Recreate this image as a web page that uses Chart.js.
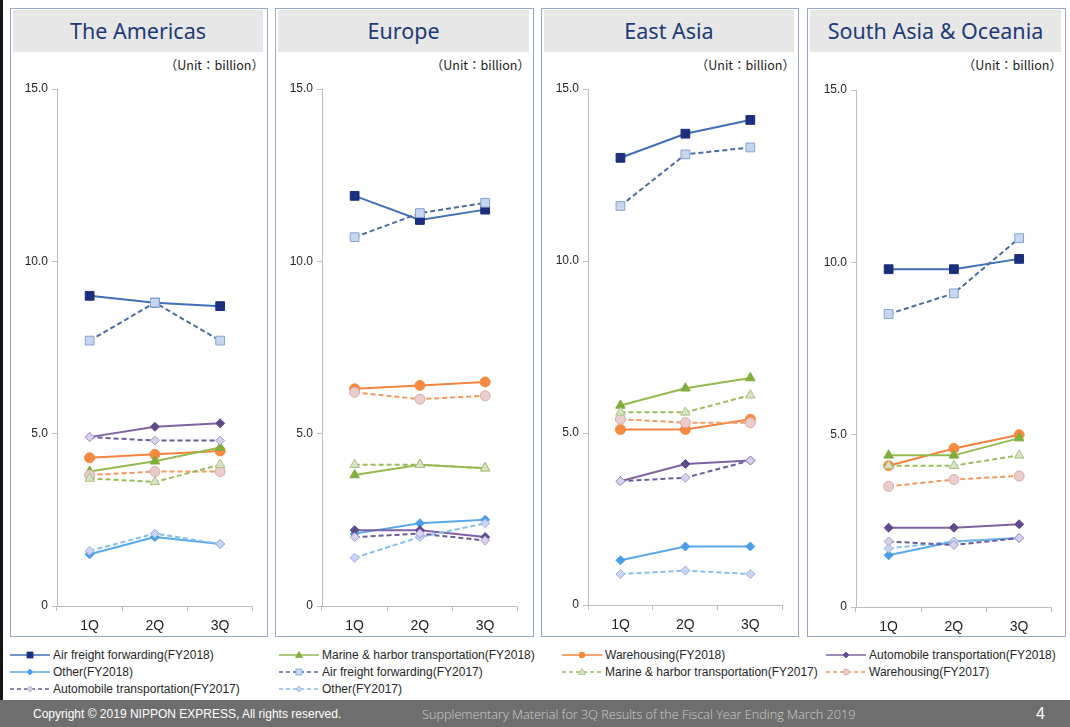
<!DOCTYPE html>
<html>
<head>
<meta charset="utf-8">
<script src="https://cdn.jsdelivr.net/npm/chart.js@4.4.1/dist/chart.umd.min.js"></script>
<style>
  html, body { margin: 0; padding: 0; background: #fff; }
  body { width: 1070px; height: 727px; position: relative; overflow: hidden; font-family: "Liberation Sans", Arial, sans-serif; }
  .leftbar { position: absolute; left: 0; top: 0; width: 3px; height: 700px; background: #151515; }
  .panel { position: absolute; border: 1.5px solid #9aa7c6; box-sizing: border-box; background: #fff; }
  .title { position: absolute; left: 2px; right: 4px; top: 1px; height: 42px; background: #e7e7e7; color: #203a78;
           font-family: "Noto Sans", sans-serif; font-size: 21.5px; line-height: 42px; text-align: center; }
  .unit { position: absolute; right: 3px; top: 46px; font-family: "Noto Sans CJK JP", sans-serif; font-size: 12.5px; color: #222; }
  canvas.ch { position: absolute; }
  .legend { position: absolute; font-size: 12px; color: #262626; white-space: nowrap; }
  .legend .item { position: absolute; display: flex; align-items: center; height: 14px; }
  .legend svg { margin-right: 3px; }
  .footer { position: absolute; left: 0; top: 700px; width: 1070px; height: 27px; background: #6e6e6e; }
  .footer span { position: absolute; top: 0; line-height: 28px; }
</style>
</head>
<body>
<div class="leftbar"></div>
<div id="root"></div>
<div class="legend" id="legend"></div>
<div class="footer">
  <span style="left:33px;color:#fff;font-size:12px;">Copyright © 2019 NIPPON EXPRESS, All rights reserved.</span>
  <span style="left:422px;color:#cfcfcf;font-size:12.7px;font-family:'Open Sans',sans-serif;font-weight:300;">Supplementary Material for 3Q Results of the Fiscal Year Ending March 2019</span>
  <span style="left:1036px;color:#fff;font-size:16px;">4</span>
</div>
<script>
// ---- categories / ticks ----
const quarters = ['1Q', '2Q', '3Q'];
const yTicks = [0, 5, 10, 15];
const regionTitles = ['The Americas', 'Europe', 'East Asia', 'South Asia & Oceania'];
const unitLabel = '（Unit：billion）';
const seriesNames = ['Air freight forwarding', 'Marine & harbor transportation', 'Warehousing', 'Automobile transportation', 'Other'];

// ---- The Americas ----
const americasAir2018 = [9.0, 8.8, 8.7];
const americasMarine2018 = [3.9, 4.2, 4.6];
const americasWare2018 = [4.3, 4.4, 4.5];
const americasAuto2018 = [4.9, 5.2, 5.3];
const americasOther2018 = [1.5, 2.0, 1.8];
const americasAir2017 = [7.7, 8.8, 7.7];
const americasMarine2017 = [3.7, 3.6, 4.1];
const americasWare2017 = [3.8, 3.9, 3.9];
const americasAuto2017 = [4.9, 4.8, 4.8];
const americasOther2017 = [1.6, 2.1, 1.8];

// ---- Europe ----
const europeAir2018 = [11.9, 11.2, 11.5];
const europeMarine2018 = [3.8, 4.1, 4.0];
const europeWare2018 = [6.3, 6.4, 6.5];
const europeAuto2018 = [2.2, 2.2, 2.0];
const europeOther2018 = [2.1, 2.4, 2.5];
const europeAir2017 = [10.7, 11.4, 11.7];
const europeMarine2017 = [4.1, 4.1, 4.0];
const europeWare2017 = [6.2, 6.0, 6.1];
const europeAuto2017 = [2.0, 2.1, 1.9];
const europeOther2017 = [1.4, 2.0, 2.4];

// ---- East Asia ----
const eastAsiaAir2018 = [13.0, 13.7, 14.1];
const eastAsiaMarine2018 = [5.8, 6.3, 6.6];
const eastAsiaWare2018 = [5.1, 5.1, 5.4];
const eastAsiaAuto2018 = [3.6, 4.1, 4.2];
const eastAsiaOther2018 = [1.3, 1.7, 1.7];
const eastAsiaAir2017 = [11.6, 13.1, 13.3];
const eastAsiaMarine2017 = [5.6, 5.6, 6.1];
const eastAsiaWare2017 = [5.4, 5.3, 5.3];
const eastAsiaAuto2017 = [3.6, 3.7, 4.2];
const eastAsiaOther2017 = [0.9, 1.0, 0.9];

// ---- South Asia & Oceania ----
const southAsiaAir2018 = [9.8, 9.8, 10.1];
const southAsiaMarine2018 = [4.4, 4.4, 4.9];
const southAsiaWare2018 = [4.1, 4.6, 5.0];
const southAsiaAuto2018 = [2.3, 2.3, 2.4];
const southAsiaOther2018 = [1.5, 1.9, 2.0];
const southAsiaAir2017 = [8.5, 9.1, 10.7];
const southAsiaMarine2017 = [4.1, 4.1, 4.4];
const southAsiaWare2017 = [3.5, 3.7, 3.8];
const southAsiaAuto2017 = [1.9, 1.8, 2.0];
const southAsiaOther2017 = [1.7, 1.9, 2.0];

const regionData = [
  { fy18: [americasAir2018, americasMarine2018, americasWare2018, americasAuto2018, americasOther2018],
    fy17: [americasAir2017, americasMarine2017, americasWare2017, americasAuto2017, americasOther2017] },
  { fy18: [europeAir2018, europeMarine2018, europeWare2018, europeAuto2018, europeOther2018],
    fy17: [europeAir2017, europeMarine2017, europeWare2017, europeAuto2017, europeOther2017] },
  { fy18: [eastAsiaAir2018, eastAsiaMarine2018, eastAsiaWare2018, eastAsiaAuto2018, eastAsiaOther2018],
    fy17: [eastAsiaAir2017, eastAsiaMarine2017, eastAsiaWare2017, eastAsiaAuto2017, eastAsiaOther2017] },
  { fy18: [southAsiaAir2018, southAsiaMarine2018, southAsiaWare2018, southAsiaAuto2018, southAsiaOther2018],
    fy17: [southAsiaAir2017, southAsiaMarine2017, southAsiaWare2017, southAsiaAuto2017, southAsiaOther2017] }
];

// ---- styles ----
const style18 = [
  { line: '#3f6fb6', fill: '#1b2f7d', border: '#1b2f7d', shape: 'rect', r: 6.2 },
  { line: '#93b94f', fill: '#80ad3b', border: '#80ad3b', shape: 'triangle', r: 5.5 },
  { line: '#f4843d', fill: '#f58a40', border: '#f58a40', shape: 'circle', r: 5 },
  { line: '#7f62a2', fill: '#5f4a8b', border: '#5f4a8b', shape: 'rectRot', r: 4.5 },
  { line: '#58a8ec', fill: '#4a9ee8', border: '#4a9ee8', shape: 'rectRot', r: 4.5 }
];
const style17 = [
  { line: '#4b6b9e', fill: '#c7d7f0', border: '#83a3d3', shape: 'rect', r: 6.2 },
  { line: '#9bbb59', fill: '#d9e3c6', border: '#a9c184', shape: 'triangle', r: 5.5 },
  { line: '#f39a5e', fill: '#e9cccb', border: '#d9a9a8', shape: 'circle', r: 5 },
  { line: '#6b5b9c', fill: '#d8d1ea', border: '#a99bca', shape: 'rectRot', r: 4.5 },
  { line: '#84bff1', fill: '#c9d5f3', border: '#9bb1e1', shape: 'rectRot', r: 4.5 }
];

// panel layout (page pixel coords)
const panelLayout = [
  { box: [10, 8, 258, 629], axisX: 57, right: 260, top: 89, bottom: 606 },
  { box: [275, 8, 259, 629], axisX: 322, right: 525, top: 89, bottom: 606 },
  { box: [541, 8, 258, 629], axisX: 588, right: 790, top: 89, bottom: 605 },
  { box: [807, 8, 259, 629], axisX: 856, right: 1059, top: 90, bottom: 607 }
];

const Y_W = 44, PAD_T = 14, X_H = 28;
Chart.defaults.font.family = '"Liberation Sans", Arial, sans-serif';
Chart.defaults.color = '#262626';

const root = document.getElementById('root');

regionTitles.forEach((title, i) => {
  const L = panelLayout[i];
  const p = document.createElement('div');
  p.className = 'panel';
  p.style.left = L.box[0] + 'px'; p.style.top = L.box[1] + 'px';
  p.style.width = L.box[2] + 'px'; p.style.height = L.box[3] + 'px';
  p.innerHTML = '<div class="title">' + title + '</div><div class="unit">' + unitLabel + '</div>';
  root.appendChild(p);

  const cv = document.createElement('canvas');
  cv.className = 'ch';
  const left = L.axisX - Y_W, top = L.top - PAD_T;
  const w = L.right - left, h = L.bottom + X_H - top;
  cv.width = w; cv.height = h;
  cv.style.left = left + 'px'; cv.style.top = top + 'px';
  cv.style.width = w + 'px'; cv.style.height = h + 'px';
  root.appendChild(cv);

  const ds = [];
  // FY2017 first so they draw on top
  regionData[i].fy17.forEach((vals, k) => {
    const s = style17[k];
    ds.push({ label: seriesNames[k] + '(FY2017)', data: vals, borderColor: s.line, borderWidth: 2, borderDash: [5, 3],
      pointStyle: s.shape, pointRadius: s.r, pointBackgroundColor: s.fill, pointBorderColor: s.border, pointBorderWidth: 1,
      fill: false, tension: 0 });
  });
  regionData[i].fy18.forEach((vals, k) => {
    const s = style18[k];
    ds.push({ label: seriesNames[k] + '(FY2018)', data: vals, borderColor: s.line, borderWidth: 2,
      pointStyle: s.shape, pointRadius: s.r, pointBackgroundColor: s.fill, pointBorderColor: s.border, pointBorderWidth: 1,
      fill: false, tension: 0 });
  });

  new Chart(cv, {
    type: 'line',
    data: { labels: quarters, datasets: ds },
    options: {
      responsive: false, animation: false, maintainAspectRatio: false,
      layout: { padding: { top: PAD_T, left: 0, right: 0, bottom: 0 } },
      plugins: { legend: { display: false }, tooltip: { enabled: false } },
      scales: {
        x: {
          type: 'category', offset: true,
          grid: { display: true, offset: true, drawOnChartArea: false, drawTicks: true, tickLength: 5, color: '#bdbdbd' },
          border: { display: true, color: '#bdbdbd', width: 1 },
          ticks: { font: { size: 14 }, color: '#222', padding: 7 },
          afterFit: (sc) => { sc.height = X_H; }
        },
        y: {
          min: 0, max: 15,
          afterBuildTicks: (sc) => { sc.ticks = yTicks.map(v => ({ value: v })); },
          grid: { display: true, drawOnChartArea: false, drawTicks: true, tickLength: 5, color: '#bdbdbd' },
          border: { display: true, color: '#bdbdbd', width: 1 },
          ticks: { font: { size: 12 }, color: '#262626', padding: 4,
                   callback: (v) => v === 0 ? '0' : Number(v).toFixed(1) },
          afterFit: (sc) => { sc.width = Y_W; }
        }
      }
    }
  });
});

// ---- legend (HTML, real text) ----
function markerSvg(s, dashed) {
  const cx = 20, cy = 7;
  let m = '';
  const f = s.fill, b = s.border;
  if (s.shape === 'rect') m = `<rect x="${cx-3}" y="${cy-3}" width="6" height="6" fill="${f}" stroke="${b}" stroke-width="0.8"/>`;
  else if (s.shape === 'triangle') m = `<polygon points="${cx},${cy-3.5} ${cx+3.5},${cy+2.5} ${cx-3.5},${cy+2.5}" fill="${f}" stroke="${b}" stroke-width="0.8"/>`;
  else if (s.shape === 'circle') m = `<circle cx="${cx}" cy="${cy}" r="3" fill="${f}" stroke="${b}" stroke-width="0.8"/>`;
  else m = `<polygon points="${cx},${cy-3} ${cx+3},${cy} ${cx},${cy+3} ${cx-3},${cy}" fill="${f}" stroke="${b}" stroke-width="0.8"/>`;
  const dash = dashed ? 'stroke-dasharray="4,3"' : '';
  return `<svg width="40" height="14"><line x1="0" y1="${cy}" x2="40" y2="${cy}" stroke="${s.line}" stroke-width="1.6" ${dash}/>${m}</svg>`;
}
const legendItems = [];
seriesNames.forEach((n, k) => legendItems.push({ text: n + '(FY2018)', s: style18[k], dashed: false }));
seriesNames.forEach((n, k) => legendItems.push({ text: n + '(FY2017)', s: style17[k], dashed: true }));
const legendCols = [10, 279, 562, 826];
const legendRows = [648, 665, 682];
const lg = document.getElementById('legend');
legendItems.forEach((it, idx) => {
  const row = Math.floor(idx / 4), col = idx % 4;
  const d = document.createElement('div');
  d.className = 'item';
  d.style.left = legendCols[col] + 'px';
  d.style.top = legendRows[row] + 'px';
  d.innerHTML = markerSvg(it.s, it.dashed) + '<span>' + it.text + '</span>';
  lg.appendChild(d);
});
</script>
</body>
</html>
